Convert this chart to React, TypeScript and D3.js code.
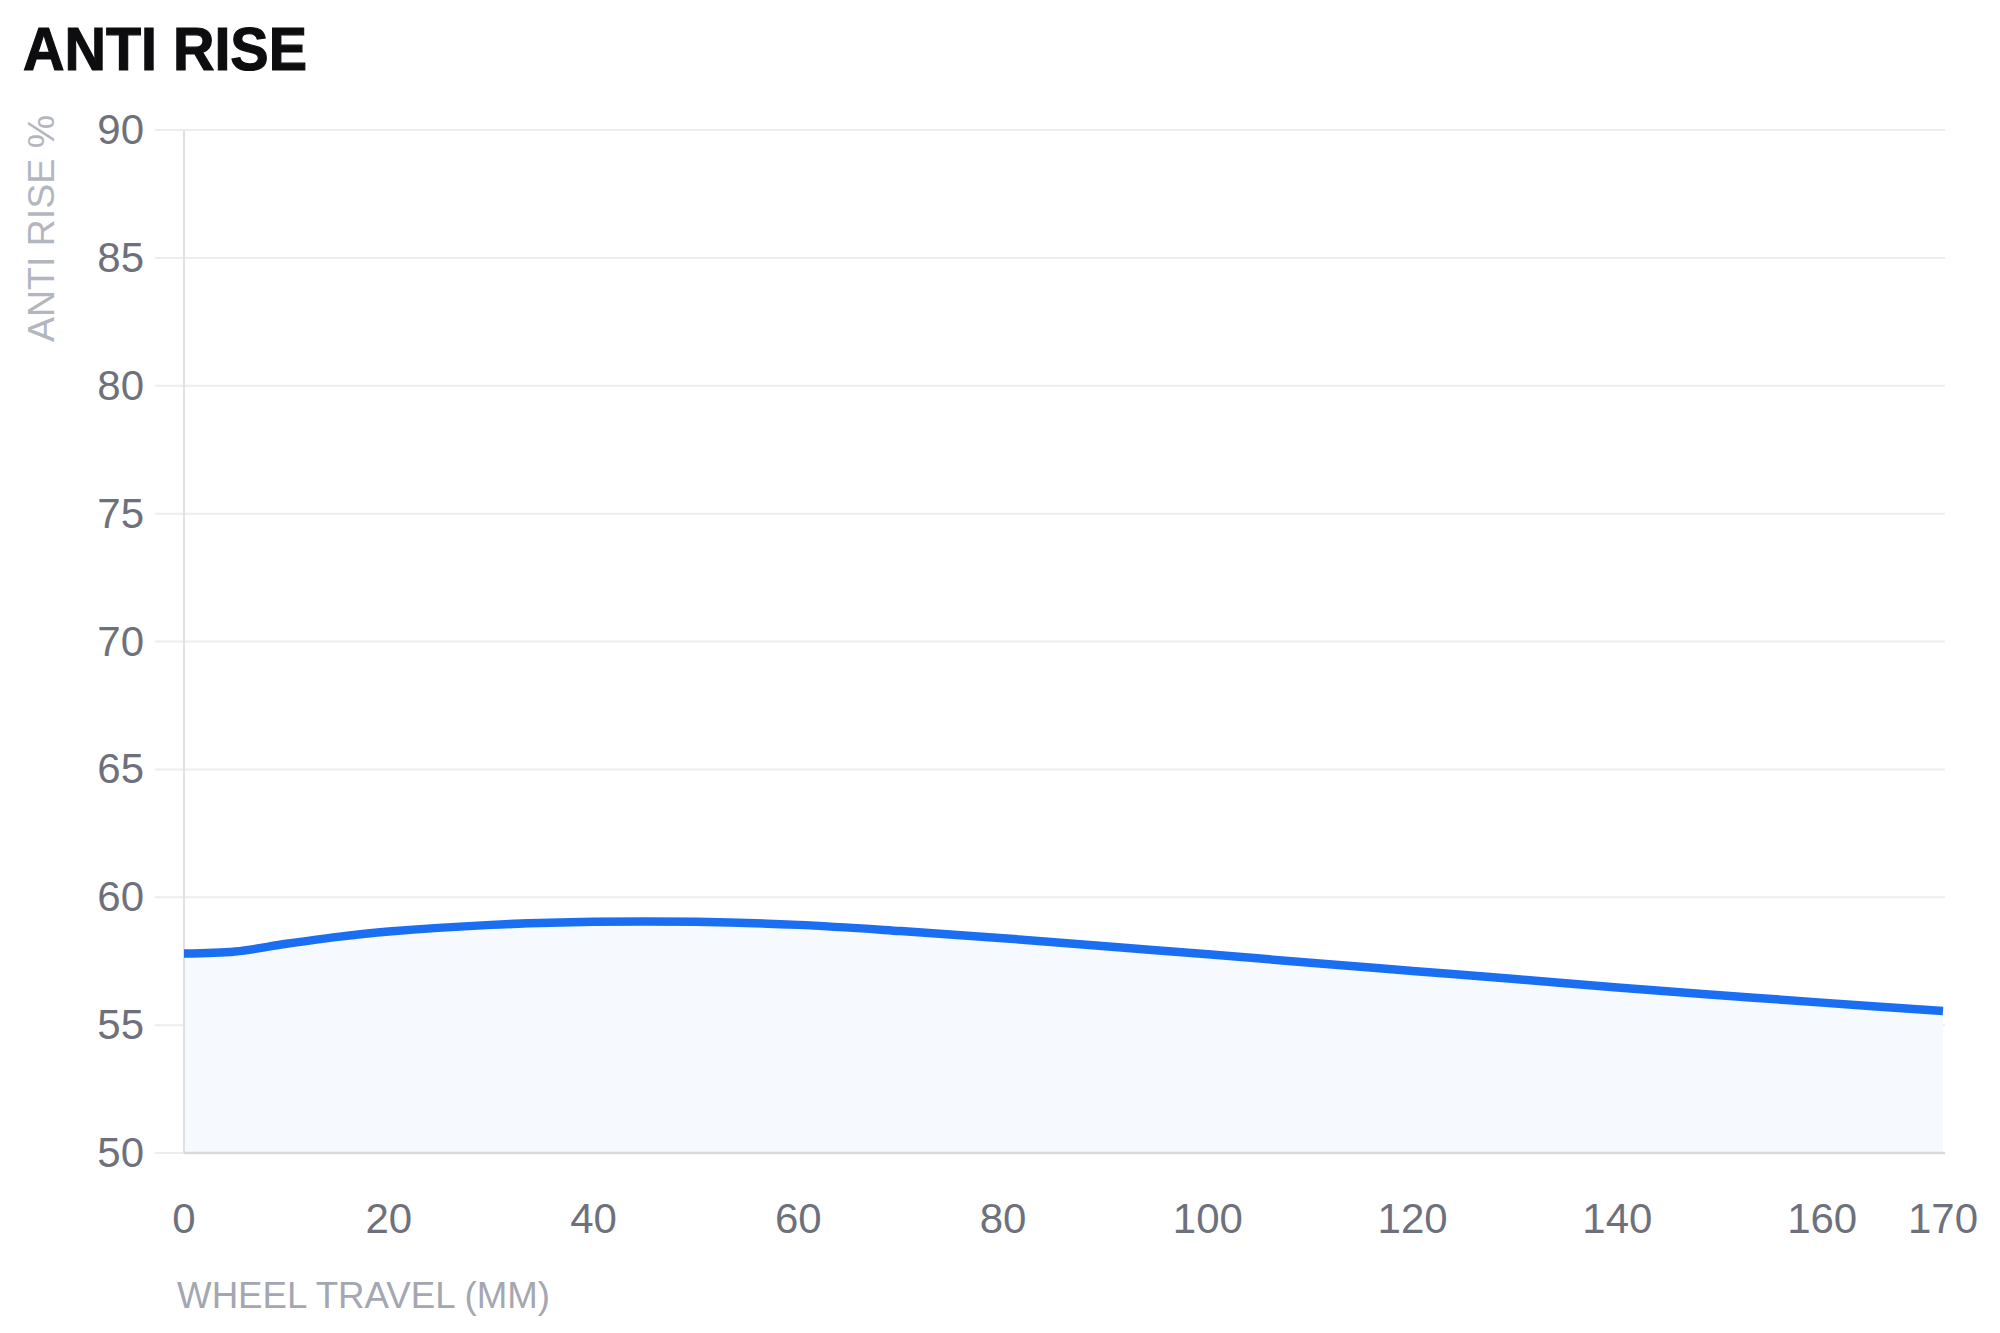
import React from "react";
import * as d3 from "d3";

const travel = [0, 5, 10, 15, 20, 30, 40, 50, 60, 70, 80, 90, 100, 110, 120, 130, 140, 150, 160, 171.8];
const antiRise = [57.8, 57.88, 58.18, 58.45, 58.66, 58.92, 59.04, 59.04, 58.92, 58.68, 58.4, 58.08, 57.77, 57.44, 57.12, 56.8, 56.47, 56.17, 55.88, 55.55];
const xTickValues = [0, 20, 40, 60, 80, 100, 120, 140, 160, 171.8];
const xTickLabels = ["0", "20", "40", "60", "80", "100", "120", "140", "160", "170"];
const yTicks = [50, 55, 60, 65, 70, 75, 80, 85, 90];
const xMax = 171.8;

const W = 2000;
const H = 1333;
const left = 184;
const right = 1943;
const top = 130;
const bottom = 1153;

export default function App() {
  const x = d3.scaleLinear().domain([0, xMax]).range([left, right]);
  const y = d3.scaleLinear().domain([50, 90]).range([bottom, top]);
  const pts = travel.map((t, i) => [t, antiRise[i]] as [number, number]);
  const curve = d3.curveCatmullRom.alpha(0.5);
  const line = d3
    .line<[number, number]>()
    .x((d) => x(d[0]))
    .y((d) => y(d[1]))
    .curve(curve);
  const area = d3
    .area<[number, number]>()
    .x((d) => x(d[0]))
    .y0(y(50))
    .y1((d) => y(d[1]))
    .curve(curve);

  const font = "'Liberation Sans', Arial, Helvetica, sans-serif";

  return (
    <svg
      width={W}
      height={H}
      style={{ position: "absolute", left: 0, top: 0, background: "#fff" }}
    >
      <text
        x={23}
        y={70}
        fontFamily={font}
        fontWeight={700}
        fontSize={62}
        fill="#0d0d0f"
        stroke="#0d0d0f"
        strokeWidth={1.2}
        textLength={284}
        lengthAdjust="spacingAndGlyphs"
      >
        ANTI RISE
      </text>

      {yTicks.map((t) => (
        <line
          key={"g" + t}
          x1={155}
          x2={right + 2}
          y1={y(t)}
          y2={y(t)}
          stroke="#ededed"
          strokeWidth={2}
        />
      ))}

      <path d={area(pts) || ""} fill="#f6f9fe" />

      <line x1={left} x2={left} y1={top} y2={bottom} stroke="#e0e0e3" strokeWidth={2} />
      <line x1={left} x2={right + 2} y1={bottom} y2={bottom} stroke="#d9d9dc" strokeWidth={2.5} />

      <path d={line(pts) || ""} fill="none" stroke="#1a6ef2" strokeWidth={8.5} />

      {yTicks.map((t) => (
        <text
          key={"yl" + t}
          x={144}
          y={y(t) + 14}
          textAnchor="end"
          fontFamily={font}
          fontSize={42}
          fill="#6e717c"
        >
          {t}
        </text>
      ))}

      {xTickValues.map((t, i) => (
        <text
          key={"xl" + i}
          x={x(t)}
          y={1233}
          textAnchor="middle"
          fontFamily={font}
          fontSize={42}
          fill="#6e717c"
        >
          {xTickLabels[i]}
        </text>
      ))}

      <text
        x={177}
        y={1308}
        fontFamily={font}
        fontSize={36}
        fill="#a4a7b2"
        textLength={373}
        lengthAdjust="spacingAndGlyphs"
      >
        WHEEL TRAVEL (MM)
      </text>
      <text
        transform={`translate(54, 342) rotate(-90)`}
        x={0}
        y={0}
        fontFamily={font}
        fontSize={37}
        fill="#b3b6bf"
        textLength={227}
        lengthAdjust="spacingAndGlyphs"
      >
        ANTI RISE %
      </text>
    </svg>
  );
}
